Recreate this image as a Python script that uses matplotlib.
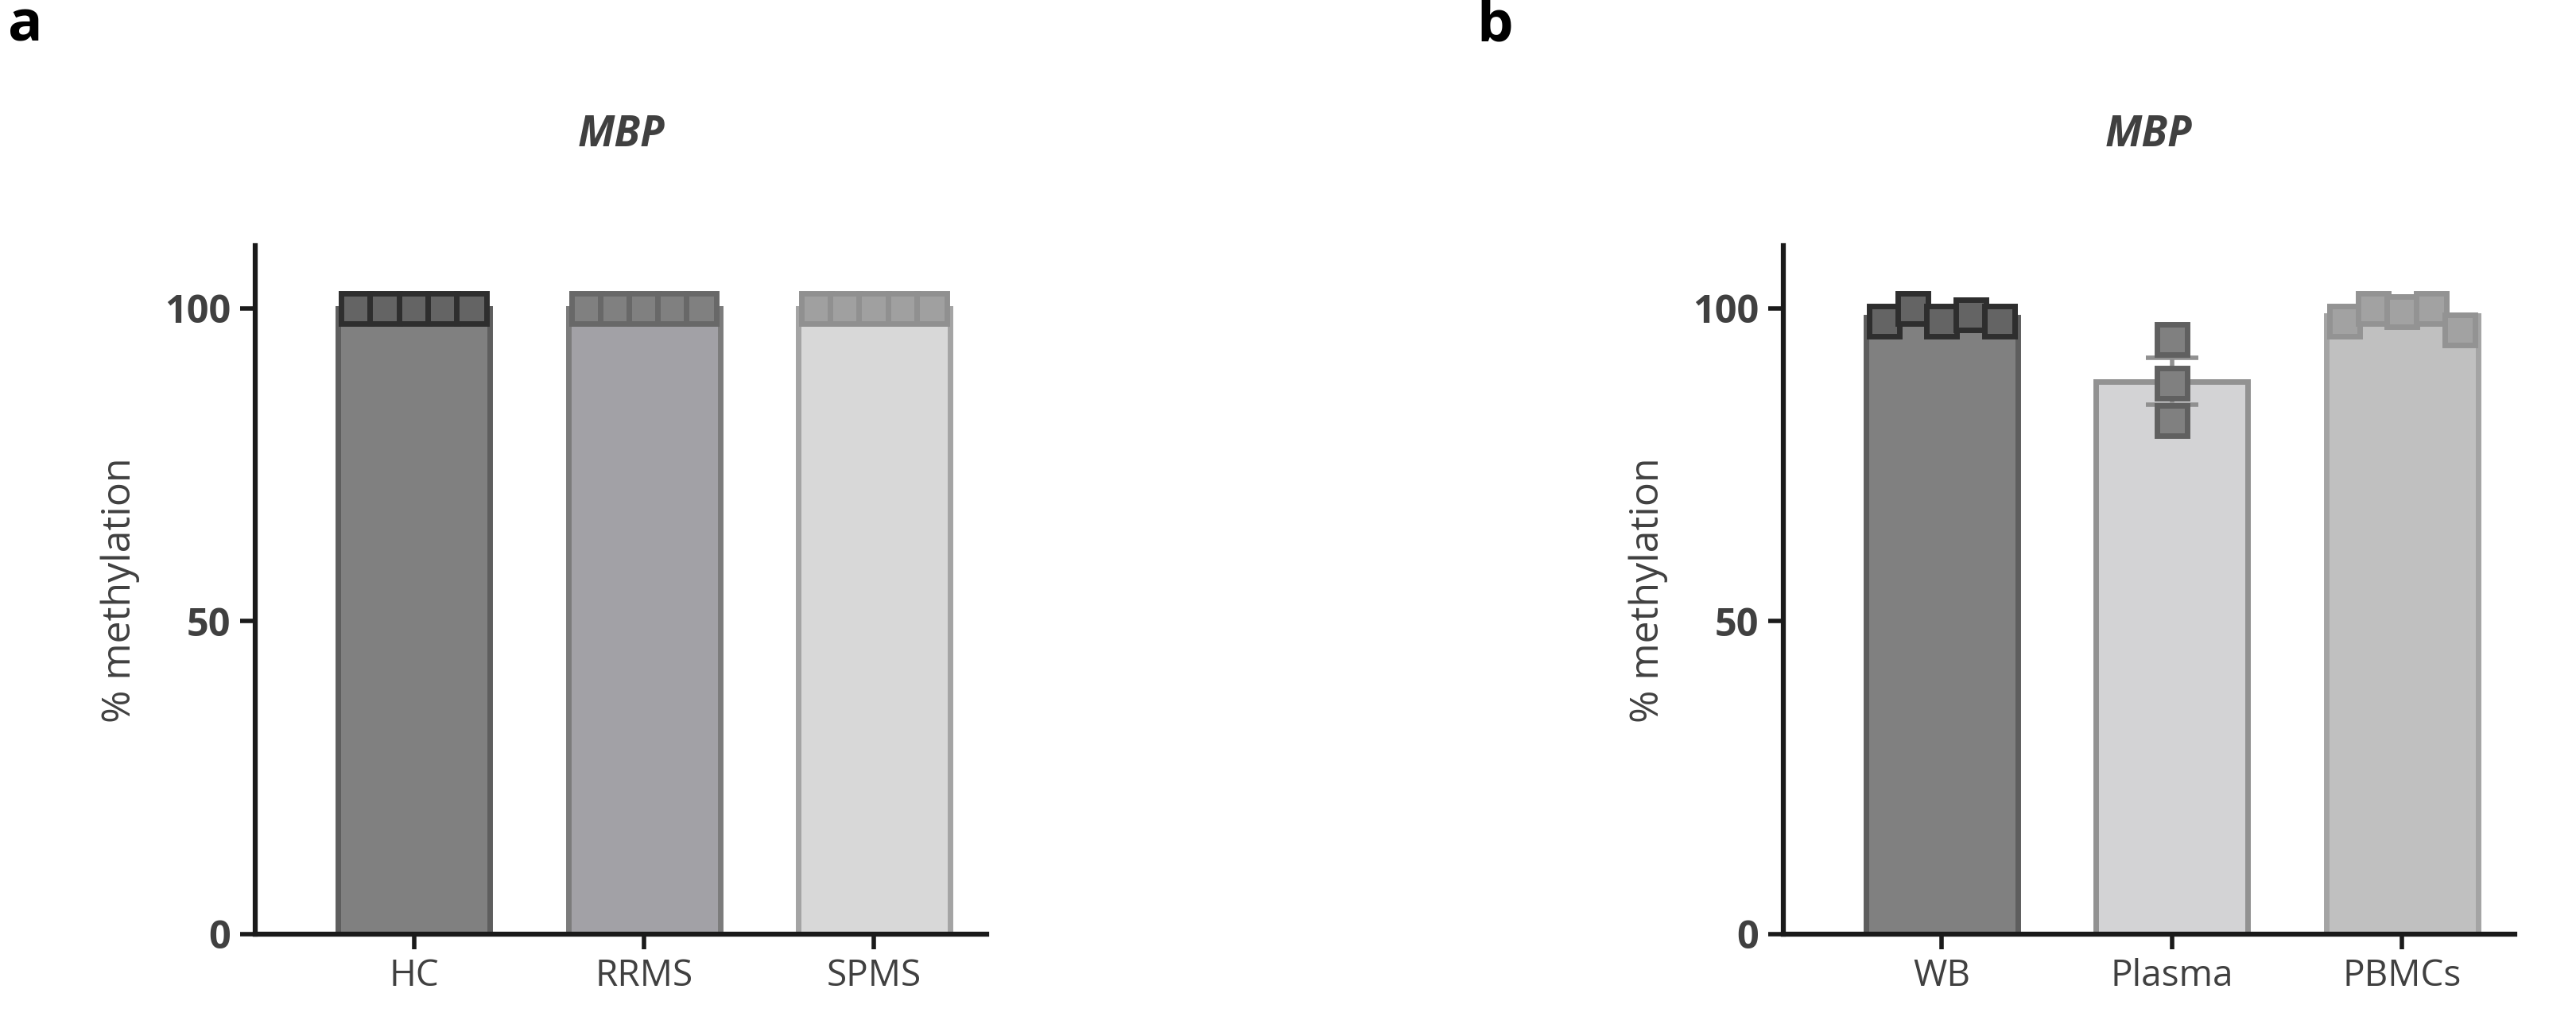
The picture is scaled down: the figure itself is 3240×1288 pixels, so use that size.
import matplotlib
matplotlib.use("Agg")
import matplotlib.pyplot as plt
import numpy as np

plt.rcParams['font.family'] = ['Open Sans', 'DejaVu Sans']

cats_a = ["HC", "RRMS", "SPMS"]
pts_a = [[100, 100, 100, 100, 100], [100, 100, 100, 100, 100], [100, 100, 100, 100, 100]]
cats_b = ["WB", "Plasma", "PBMCs"]
pts_b = [[98, 100, 98, 99, 98], [95, 88, 82], [98, 100, 99.5, 100, 96.5]]

bar_fc_a = ["#808080", "#a2a1a6", "#d8d8d8"]
bar_ec_a = ["#5e5e5e", "#7c7c7c", "#a4a4a4"]
mk_fc_a = ["#646464", "#808080", "#a0a0a0"]
mk_ec_a = ["#2e2e2e", "#686868", "#909090"]
bar_fc_b = ["#808080", "#d3d3d5", "#c0c0c0"]
bar_ec_b = ["#5e5e5e", "#929292", "#a4a4a4"]
mk_fc_b = ["#646464", "#808080", "#a2a2a2"]
mk_ec_b = ["#2e2e2e", "#606060", "#939393"]

fig = plt.figure(figsize=(32.41, 12.88), dpi=100)
tc = "#404040"

def panel(rect, cats, pts, bfc, bec, mfc, mec, offsets_list, show_err):
    ax = fig.add_axes(rect)
    x = np.arange(len(cats))
    means = [np.mean(p) for p in pts]
    ax.bar(x, means, width=0.66, color=bfc, edgecolor=bec, linewidth=5, zorder=1)
    for i, p in enumerate(pts):
        offs = offsets_list[i]
        if show_err and len(p) > 1 and np.std(p) > 0:
            sem = np.std(p, ddof=1) / np.sqrt(len(p))
            ax.errorbar(x[i], means[i], yerr=sem, color="#909090", capsize=24,
                        capthick=4, elinewidth=4, zorder=2)
        ax.plot(x[i] + np.array(offs), p, 's', ms=27, mfc=mfc[i], mec=mec[i],
                mew=5, zorder=3, clip_on=False, linestyle='none')
    ax.set_xlim(-0.69, 2.49)
    ax.set_ylim(0, 110)
    ax.set_yticks([0, 50, 100])
    ax.set_xticks(x)
    ax.set_xticklabels(cats, fontsize=33, color=tc)
    for t in ax.get_yticklabels():
        t.set_fontsize(35); t.set_fontweight('bold'); t.set_color(tc)
    ax.tick_params(axis='both', width=4, length=14, color="#1a1a1a", pad=8)
    for s in ['top', 'right']:
        ax.spines[s].set_visible(False)
    for s in ['left', 'bottom']:
        ax.spines[s].set_linewidth(4.5); ax.spines[s].set_color("#1a1a1a")
    ax.set_ylabel("% methylation", fontsize=36, color=tc, labelpad=22)
    ax.set_title("MBP", fontsize=38, fontweight='bold', fontstyle='italic',
                 color=tc, pad=90)
    return ax

o5 = [-0.25, -0.125, 0, 0.125, 0.25]
panel([0.099, 0.088, 0.284, 0.672], cats_a, pts_a, bar_fc_a, bar_ec_a, mk_fc_a, mk_ec_a,
      [o5, o5, o5], False)
panel([0.692, 0.088, 0.284, 0.672], cats_b, pts_b, bar_fc_b, bar_ec_b, mk_fc_b, mk_ec_b,
      [o5, [0, 0, 0], o5], True)

fig.text(0.003, 0.975, "a", fontsize=52, fontweight='bold', va='center')
fig.text(0.573, 0.975, "b", fontsize=52, fontweight='bold', va='center')

fig.savefig("out.png", dpi=100)
